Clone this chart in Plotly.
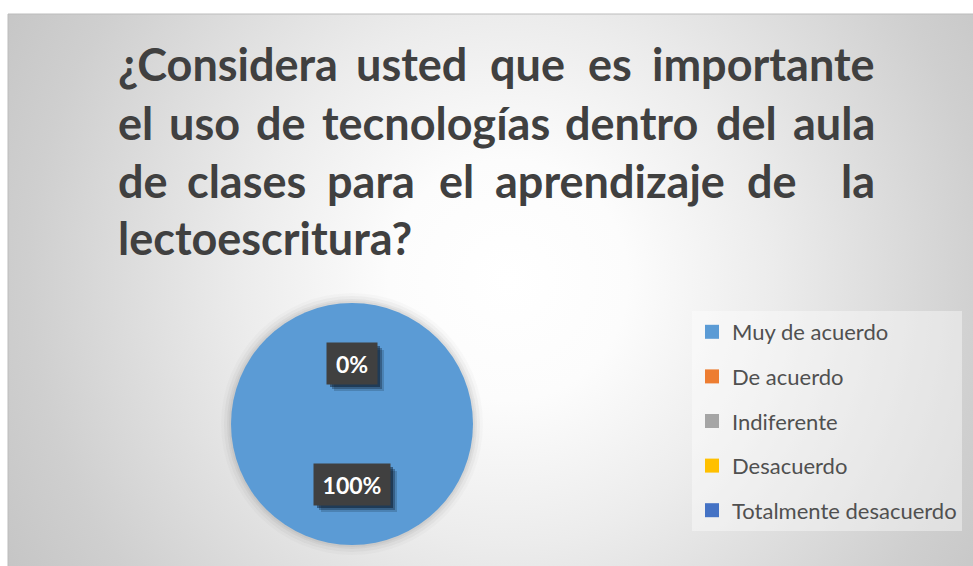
import math
import base64
import plotly.graph_objects as go

W, H = 973, 566

# ---- data ----
labels = ["Muy de acuerdo", "De acuerdo", "Indiferente", "Desacuerdo", "Totalmente desacuerdo"]
values = [100, 0, 0, 0, 0]
colors = ["#5B9BD5", "#ED7D31", "#A5A5A5", "#FFC000", "#4472C4"]

title_lines = [
    ["¿Considera", "usted", "que", "es", "importante"],
    ["el", "uso", "de", "tecnologías", "dentro", "del", "aula"],
    ["de", "clases", "para", "el", "aprendizaje", "de", "la"],
    ["lectoescritura?"],
]

# word positions (px) for the justified title: first word left edge,
# last word right edge, the rest are centres
word_x = [
    [116, 411, 527, 610, 877],
    [116, 204, 281, 436, 631, 746, 877],
    [116, 246, 371, 456, 610, 772, 877],
    [116],
]
line_base = [80, 139, 197, 254]

TXT = "#404040"
FONT = "Lato"


def px(x):
    return x / W


def py(y):
    return 1 - y / H


fig = go.Figure()

# pie
cx, cy, r = 352, 424, 121
fig.add_trace(go.Pie(
    labels=labels,
    values=values,
    marker=dict(colors=colors, line=dict(width=0)),
    sort=False,
    direction="clockwise",
    rotation=0,
    textinfo="none",
    showlegend=False,
    domain=dict(x=[px(cx - r), px(cx + r)], y=[py(cy + r), py(cy - r)]),
))

# legend entries (one group each so the spacing can be set)
for lab, col in zip(labels, colors):
    fig.add_trace(go.Scatter(
        x=[None], y=[None], mode="markers", name=lab, legendgroup=lab,
        marker=dict(symbol="square", size=14, color=col),
    ))

ann = []
shapes = []

# title, justified word by word
fs = 45
for words, xs, base in zip(title_lines, word_x, line_base):
    n = len(words)
    for i, (wd, x) in enumerate(zip(words, xs)):
        if i == 0:
            anchor = "left"
        elif i == n - 1:
            anchor = "right"
        else:
            anchor = "center"
        ann.append(dict(
            text=wd, x=px(x), y=py(base - 0.36 * fs), xref="paper", yref="paper",
            xanchor=anchor, yanchor="middle", showarrow=False,
            font=dict(family=FONT, size=fs, color=TXT, weight="bold"),
        ))

# data labels at half radius on each slice's mid angle
# (zero slices all land on the same spot, so draw that one once)
total = sum(values)
start = 0
seen = set()
for v in values:
    frac = v / total
    mid = (start + frac / 2) * 2 * math.pi
    start += frac
    lx = cx + 0.5 * r * math.sin(mid)
    ly = cy - 0.5 * r * math.cos(mid)
    txt = f"{round(frac * 100)}%"
    key = (round(lx), round(ly), txt)
    if key in seen:
        continue
    seen.add(key)
    bw = 13 * len(txt) + 16
    hw, hh = bw / 2 + 4, 20.5
    for sh, a in [(7, 0.18), (5, 0.3), (3, 0.45)]:
        shapes.append(dict(
            type="rect", xref="paper", yref="paper",
            x0=px(lx - hw + sh), x1=px(lx + hw + sh), y0=py(ly + hh + sh), y1=py(ly - hh + sh),
            line=dict(width=0), fillcolor=f"rgba(5,15,30,{a})", layer="above",
        ))
    ann.append(dict(
        text=txt, x=px(lx), y=py(ly), xref="paper", yref="paper",
        xanchor="center", yanchor="middle",
        showarrow=False, width=bw, height=33, borderpad=4, bgcolor="#404040",
        font=dict(family=FONT, size=23, color="white", weight="bold"),
    ))

# background gradient for the chart area
gw, gh = W - 8, H - 14
svg = f'''<svg xmlns="http://www.w3.org/2000/svg" width="{gw}" height="{gh}" viewBox="0 0 {gw} {gh}" preserveAspectRatio="none">
<defs><radialGradient id="g" gradientUnits="userSpaceOnUse" cx="500" cy="266" r="600">
<stop offset="0" stop-color="#ffffff"/><stop offset="0.2" stop-color="#fcfcfc"/>
<stop offset="0.44" stop-color="#ececec"/><stop offset="0.8" stop-color="#cfcfcf"/>
<stop offset="1" stop-color="#c3c3c3"/></radialGradient></defs>
<rect width="{gw}" height="{gh}" fill="url(#g)"/></svg>'''
src = "data:image/svg+xml;base64," + base64.b64encode(svg.encode()).decode()

shapes.append(dict(type="rect", xref="paper", yref="paper", x0=px(8), x1=px(W + 2), y0=py(H + 2), y1=py(14),
                   line=dict(color="#bcbcbc", width=1), fillcolor="rgba(0,0,0,0)", layer="below"))
# soft shadow around the pie
for g, a in [(10, 0.02), (7, 0.03), (4, 0.04), (2, 0.04)]:
    shapes.append(dict(type="circle", xref="paper", yref="paper",
                       x0=px(cx - r - g), x1=px(cx + r + g), y0=py(cy + r + g), y1=py(cy - r - g),
                       line=dict(width=0), fillcolor=f"rgba(0,0,0,{a})", layer="below"))

fig.update_layout(
    width=W, height=H,
    margin=dict(l=0, r=0, t=0, b=0),
    paper_bgcolor="white",
    plot_bgcolor="rgba(0,0,0,0)",
    xaxis=dict(visible=False),
    yaxis=dict(visible=False),
    images=[dict(source=src, xref="paper", yref="paper", x=px(8), y=py(14),
                 sizex=px(gw), sizey=gh / H, sizing="stretch", layer="below")],
    shapes=shapes,
    annotations=ann,
    legend=dict(
        x=px(692), y=py(311), xanchor="left", yanchor="top",
        bgcolor="rgba(255,255,255,0.4)", borderwidth=0,
        font=dict(family=FONT, size=22, color="#505050"),
        tracegroupgap=13, itemclick=False,
    ),
)

fig.write_html("out.html", config={"displayModeBar": False},
               post_script="document.body.style.margin='0';")
